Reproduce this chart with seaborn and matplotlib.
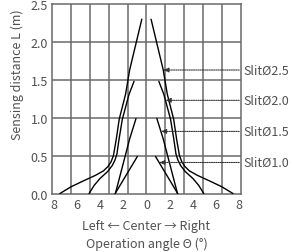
import numpy as np
import pandas as pd
import seaborn as sns
import matplotlib
matplotlib.use("Agg")
import matplotlib.pyplot as plt

# right-hand branch of each curve (left branch is the mirror image)
slits = ["SlitØ2.5", "SlitØ2.0", "SlitØ1.5", "SlitØ1.0"]
angle_r = [
    [0.4, 1.45, 1.8, 2.35, 2.6, 2.85, 3.05, 3.3, 3.7, 4.4, 5.4, 6.5, 7.47],
    [1.07, 1.5, 2.08, 2.36, 2.55, 2.72, 2.95, 3.35, 4.0, 4.5, 4.95],
    [0.9, 1.45, 2.68],
    [0.78, 2.7],
]
dist_r = [
    [2.3, 1.63, 1.31, 0.98, 0.72, 0.5, 0.42, 0.36, 0.3, 0.24, 0.17, 0.09, 0.0],
    [1.48, 1.31, 0.98, 0.72, 0.52, 0.44, 0.37, 0.29, 0.2, 0.11, 0.0],
    [0.99, 0.72, 0.0],
    [0.49, 0.0],
]
label_y = [1.63, 1.23, 0.82, 0.41]

xticks = [-8, -6, -4, -2, 0, 2, 4, 6, 8]
xticklabels = ["8", "6", "4", "2", "0", "2", "4", "6", "8"]
yticks = [0.0, 0.5, 1.0, 1.5, 2.0, 2.5]

rows = []
for s, xs, ys in zip(slits, angle_r, dist_r):
    for side, sign in (("L", -1), ("R", 1)):
        for i, (x, y) in enumerate(zip(xs, ys)):
            rows.append({"slit": s, "branch": s + side, "order": i,
                         "angle": sign * x, "dist": y})
df = pd.DataFrame(rows)

sns.set_style("white")
plt.rcParams["font.family"] = ["Noto Sans CJK JP", "DejaVu Sans"]
txt = "#505050"
grid_c = "#6a6a6a"

fig = plt.figure(figsize=(2.92, 2.53), dpi=100)
ax = fig.add_axes([0.178, 0.231, 0.647, 0.749])

xmax = 8.15
ax.set_xlim(-xmax, xmax)
ax.set_ylim(0, 2.5)

# grid: 10 columns x 5 rows
for gx in np.linspace(-xmax, xmax, 11)[1:-1]:
    ax.axvline(gx, color=grid_c, lw=1.1, zorder=1)
for gy in [0.5, 1.0, 1.5, 2.0]:
    ax.axhline(gy, color=grid_c, lw=1.1, zorder=1)

sns.lineplot(data=df, x="angle", y="dist", units="branch", estimator=None,
             sort=False, color="black", lw=1.0, ax=ax, zorder=3)

for s, xs, ys, ly in zip(slits, angle_r, dist_r, label_y):
    tip = np.interp(ly, ys[::-1], xs[::-1])
    ax.annotate(s, xy=(tip, ly), xytext=(8.4, ly), textcoords="data",
                ha="left", va="center", fontsize=9, color=txt,
                annotation_clip=False,
                arrowprops=dict(arrowstyle="-|>,head_length=0.35,head_width=0.15",
                                color="#333333", lw=0.8, ls=(0, (1, 1)),
                                shrinkA=1, shrinkB=0))

ax.set_xticks(xticks)
ax.set_xticklabels(xticklabels)
ax.set_yticks(yticks)
ax.set_yticklabels([f"{v:.1f}" for v in yticks])
ax.tick_params(length=0, labelsize=9, labelcolor=txt, pad=3)
ax.set_xlabel("Left ← Center → Right\nOperation angle Θ (°)", fontsize=9,
              color=txt, linespacing=1.45, labelpad=6)
ax.set_ylabel("Sensing distance L (m)", fontsize=9, color=txt)
ax.yaxis.set_label_coords(-0.15, 0.63)
for sp in ax.spines.values():
    sp.set_color(grid_c)
    sp.set_linewidth(1.1)

fig.savefig("out.png", dpi=100)
